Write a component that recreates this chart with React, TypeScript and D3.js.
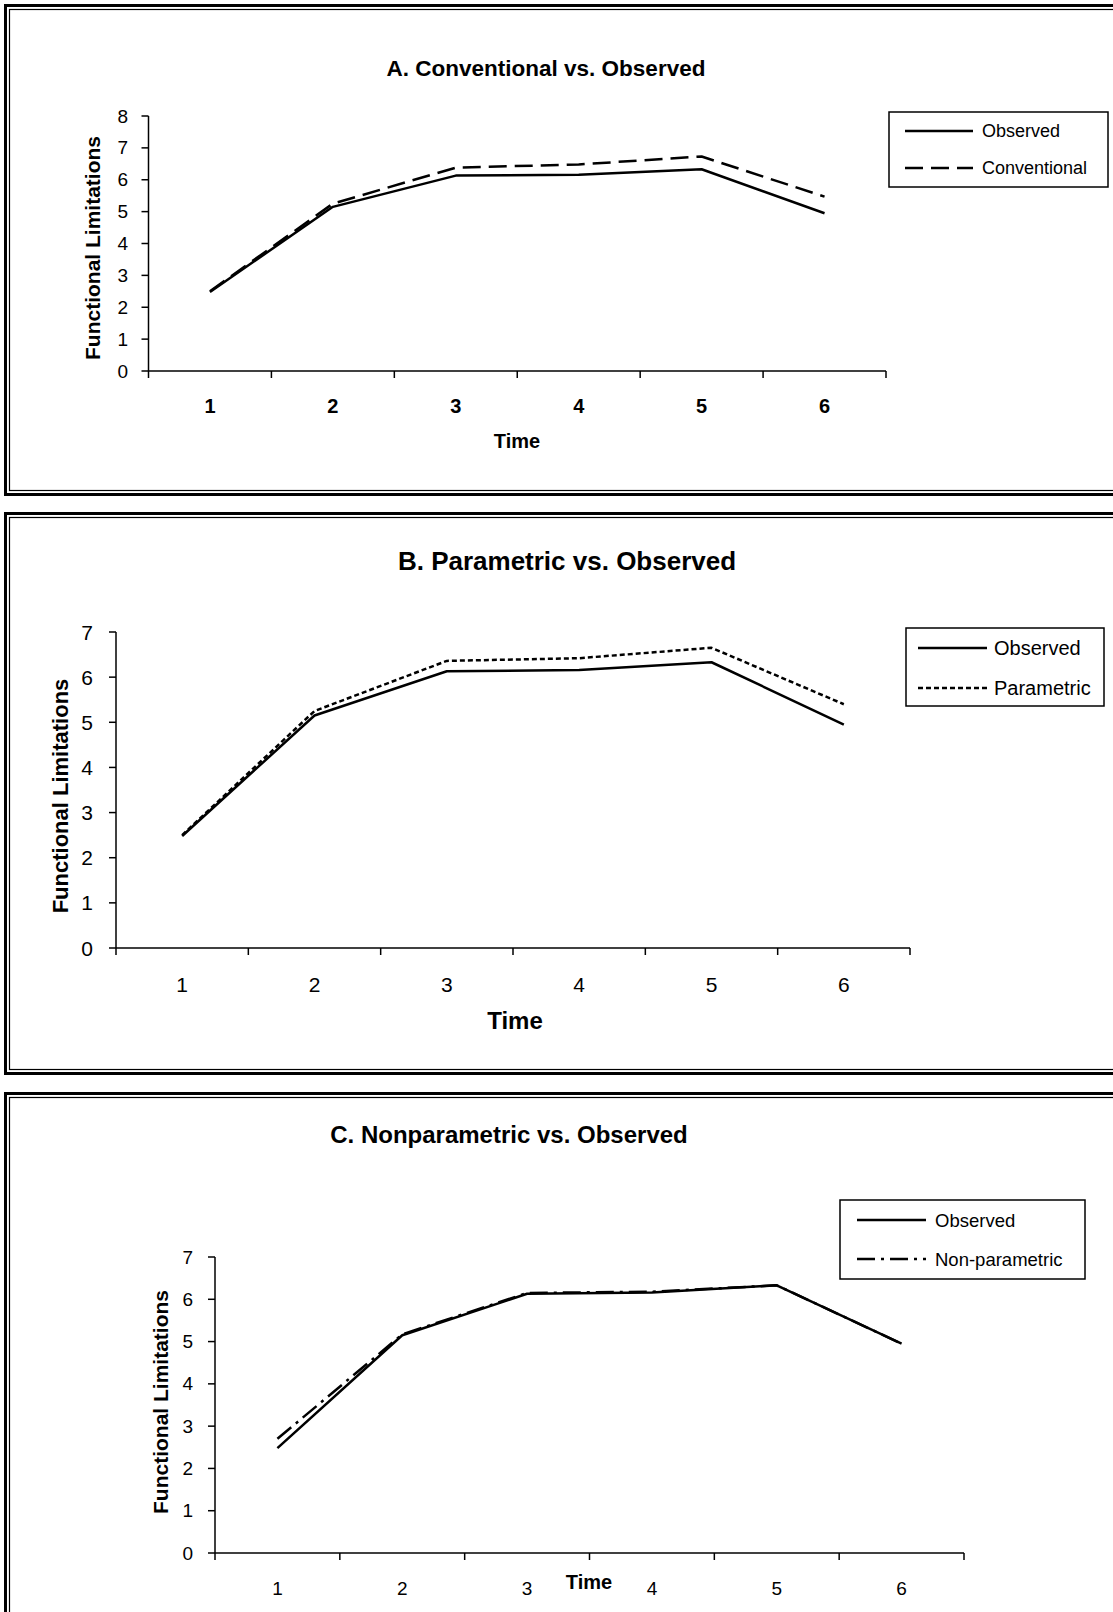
import React from 'react';
import * as d3 from 'd3';

const times = ['1', '2', '3', '4', '5', '6'];
const observed = [2.48, 5.15, 6.13, 6.16, 6.33, 4.95];
const conventional = [2.5, 5.25, 6.38, 6.48, 6.73, 5.47];
const parametric = [2.5, 5.25, 6.36, 6.42, 6.65, 5.4];
const nonparametric = [2.7, 5.17, 6.15, 6.18, 6.33, 4.95];
const ticksA = [0, 1, 2, 3, 4, 5, 6, 7, 8];
const ticksBC = [0, 1, 2, 3, 4, 5, 6, 7];

const FONT = '"Liberation Sans", Arial, sans-serif';

type Series = { name: string; values: number[]; dash: string };

type Cfg = {
  top: number; bottom: number;
  x0: number; x1: number; yTop: number; yBot: number; yMax: number; yTicks: number[];
  title: string; titleX: number; titleY: number; titleSize: number;
  ytSize: number; ytBold: boolean; ytRight: number;
  xtSize: number; xtBold: boolean; xtY: number;
  timeX: number; timeY: number; timeSize: number;
  ylX: number; ylY: number; ylSize: number;
  legX0: number; legX1: number; legY0: number; legY1: number;
  legLine0: number; legLine1: number; legText: number; legRows: number[]; legSize: number;
  series: Series[];
};

function Panel({ c }: { c: Cfg }) {
  const x = d3.scaleBand<string>().domain(times).range([c.x0, c.x1]);
  const bw = x.bandwidth();
  const y = d3.scaleLinear().domain([0, c.yMax]).range([c.yBot, c.yTop]);
  const line = d3.line<number>().x((_, i) => (x(times[i]) as number) + bw / 2).y((d) => y(d));
  const bounds = [...times.map((t) => x(t) as number), c.x1];
  const all: Series[] = [{ name: 'Observed', values: observed, dash: '' }, ...c.series];
  return (
    <g>
      <rect x={5.5} y={c.top + 1.5} width={1200} height={c.bottom - c.top - 3} fill="none" stroke="#000" strokeWidth={3} />
      <rect x={9.5} y={c.top + 5.5} width={1200} height={c.bottom - c.top - 11} fill="none" stroke="#000" strokeWidth={1.2} />
      <text x={c.titleX} y={c.titleY} textAnchor="middle" dominantBaseline="central" fontFamily={FONT} fontWeight="bold" fontSize={c.titleSize}>{c.title}</text>
      <line x1={c.x0} x2={c.x0} y1={c.yTop} y2={c.yBot} stroke="#000" strokeWidth={1.5} />
      <line x1={c.x0} x2={c.x1} y1={c.yBot} y2={c.yBot} stroke="#000" strokeWidth={1.5} />
      {c.yTicks.map((t) => (
        <g key={'y' + t}>
          <line x1={c.x0 - 7} x2={c.x0} y1={y(t)} y2={y(t)} stroke="#000" strokeWidth={1.5} />
          <text x={c.ytRight} y={y(t)} textAnchor="end" dominantBaseline="central" fontFamily={FONT} fontWeight={c.ytBold ? 'bold' : 'normal'} fontSize={c.ytSize}>{t}</text>
        </g>
      ))}
      {bounds.map((b, i) => (
        <line key={'xt' + i} x1={b} x2={b} y1={c.yBot} y2={c.yBot + 7} stroke="#000" strokeWidth={1.5} />
      ))}
      {times.map((t) => (
        <text key={'xl' + t} x={(x(t) as number) + bw / 2} y={c.xtY} textAnchor="middle" dominantBaseline="central" fontFamily={FONT} fontWeight={c.xtBold ? 'bold' : 'normal'} fontSize={c.xtSize}>{t}</text>
      ))}
      <text x={c.timeX} y={c.timeY} textAnchor="middle" dominantBaseline="central" fontFamily={FONT} fontWeight="bold" fontSize={c.timeSize}>Time</text>
      <text transform={`translate(${c.ylX},${c.ylY}) rotate(-90)`} textAnchor="middle" dominantBaseline="central" fontFamily={FONT} fontWeight="bold" fontSize={c.ylSize}>Functional Limitations</text>
      {all.slice().reverse().map((s) => (
        <path key={s.name} d={line(s.values) || ''} fill="none" stroke="#000" strokeWidth={2.5} strokeDasharray={s.dash || undefined} strokeLinejoin="round" />
      ))}
      <rect x={c.legX0} y={c.legY0} width={c.legX1 - c.legX0} height={c.legY1 - c.legY0} fill="#fff" stroke="#000" strokeWidth={1.5} />
      {all.map((s, i) => (
        <g key={'lg' + s.name}>
          <line x1={c.legLine0} x2={c.legLine1} y1={c.legRows[i]} y2={c.legRows[i]} stroke="#000" strokeWidth={2.5} strokeDasharray={s.dash || undefined} />
          <text x={c.legText} y={c.legRows[i]} dominantBaseline="central" fontFamily={FONT} fontSize={c.legSize}>{s.name}</text>
        </g>
      ))}
    </g>
  );
}

const panelA: Cfg = {
  top: 4, bottom: 496,
  x0: 148.5, x1: 886, yTop: 116, yBot: 371, yMax: 8, yTicks: ticksA,
  title: 'A. Conventional vs. Observed', titleX: 546, titleY: 68, titleSize: 22.5,
  ytSize: 19, ytBold: false, ytRight: 128,
  xtSize: 20, xtBold: true, xtY: 406,
  timeX: 517, timeY: 441, timeSize: 20,
  ylX: 92, ylY: 248, ylSize: 21,
  legX0: 889, legX1: 1108, legY0: 112, legY1: 187,
  legLine0: 905, legLine1: 973, legText: 982, legRows: [131, 168], legSize: 18,
  series: [{ name: 'Conventional', values: conventional, dash: '18,8' }],
};

const panelB: Cfg = {
  top: 512, bottom: 1075,
  x0: 116, x1: 910, yTop: 632, yBot: 948, yMax: 7, yTicks: ticksBC,
  title: 'B. Parametric vs. Observed', titleX: 567, titleY: 561, titleSize: 26,
  ytSize: 21, ytBold: false, ytRight: 93,
  xtSize: 21, xtBold: false, xtY: 984,
  timeX: 515, timeY: 1020, timeSize: 24,
  ylX: 60, ylY: 796, ylSize: 22,
  legX0: 906, legX1: 1104, legY0: 628, legY1: 706,
  legLine0: 918, legLine1: 987, legText: 994, legRows: [648, 688], legSize: 20,
  series: [{ name: 'Parametric', values: parametric, dash: '5,3' }],
};

const panelC: Cfg = {
  top: 1092, bottom: 1700,
  x0: 215, x1: 964, yTop: 1257, yBot: 1553, yMax: 7, yTicks: ticksBC,
  title: 'C. Nonparametric vs. Observed', titleX: 509, titleY: 1134, titleSize: 24,
  ytSize: 19, ytBold: false, ytRight: 193,
  xtSize: 19, xtBold: false, xtY: 1588,
  timeX: 589, timeY: 1582, timeSize: 20,
  ylX: 160, ylY: 1402, ylSize: 21,
  legX0: 840, legX1: 1085, legY0: 1200, legY1: 1279,
  legLine0: 857, legLine1: 926, legText: 935, legRows: [1220, 1259], legSize: 18.5,
  series: [{ name: 'Non-parametric', values: nonparametric, dash: '18,6,3,6' }],
};

export default function App() {
  return (
    <svg width={1113} height={1612} style={{ position: 'absolute', left: 0, top: 0, background: '#fff' }}>
      <rect x={0} y={0} width={1113} height={1612} fill="#fff" />
      <Panel c={panelA} />
      <Panel c={panelB} />
      <Panel c={panelC} />
    </svg>
  );
}
